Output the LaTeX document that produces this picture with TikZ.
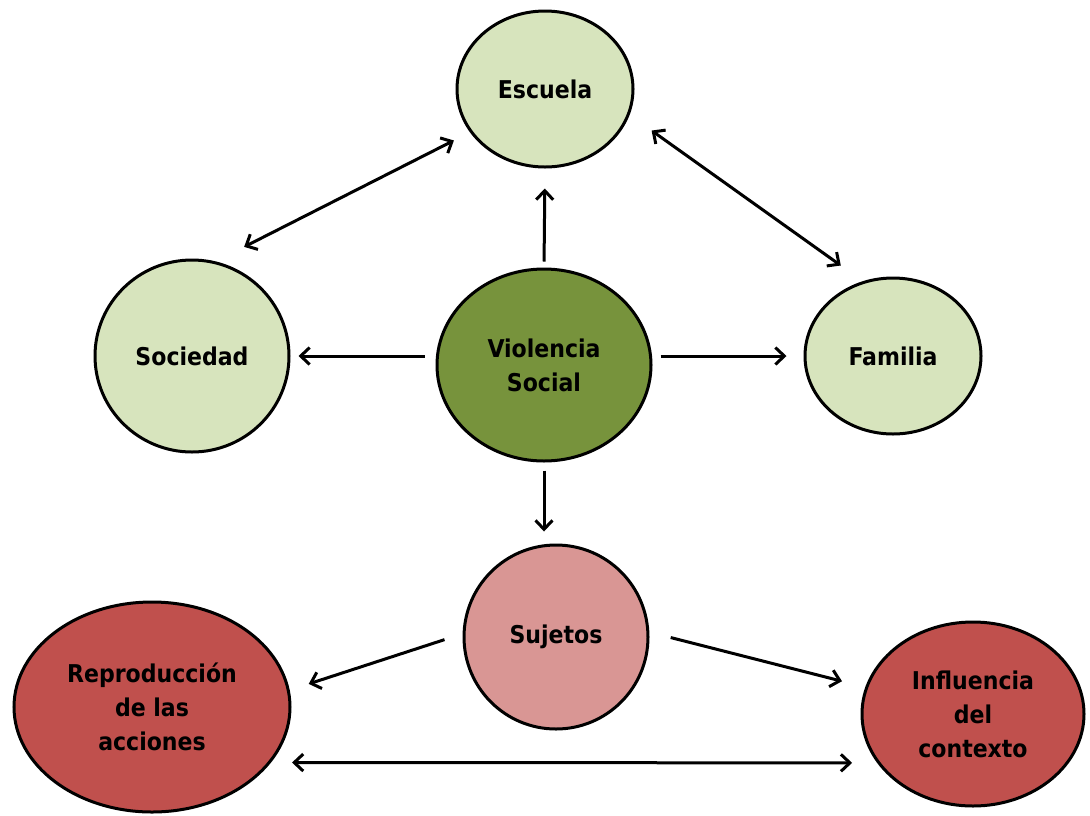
\documentclass[tikz,border=0pt]{standalone}
\usepackage{fontspec}
\setmainfont{DejaVu Sans Condensed}
\usepackage{tikz}
\usetikzlibrary{shapes.geometric,arrows.meta}
\definecolor{verdeclaro}{HTML}{D7E4BD}
\definecolor{verdeoscuro}{HTML}{77933C}
\definecolor{rosa}{HTML}{D99694}
\definecolor{rojo}{HTML}{C0504D}

\begin{document}
\begin{tikzpicture}[x=1pt,y=-1pt,
		burbuja/.style={ellipse,draw=black,line width=3pt,inner sep=0pt,align=center,
			font=\fontsize{24.5}{34}\selectfont\bfseries},
		flecha/.style={draw,line width=3pt,-{Straight Barb[length=9pt,width=17pt]}},
		dflecha/.style={draw,line width=3pt,{Straight Barb[length=9pt,width=17pt]}-{Straight Barb[length=9pt,width=17pt]}}]
	\useasboundingbox (0,0) rectangle (1090,815);
	
	\node[burbuja,fill=verdeclaro,minimum width=176pt,minimum height=156pt] (escuela) at (545,89) {Escuela};
	\node[burbuja,fill=verdeclaro,minimum width=194pt,minimum height=192pt] (sociedad) at (192,356) {Sociedad};
	\node[burbuja,fill=verdeoscuro,minimum width=214pt,minimum height=192pt] (violencia) at (544,365) {Violencia\\Social};
	\node[burbuja,fill=verdeclaro,minimum width=176pt,minimum height=156pt] (familia) at (893,356) {Familia};
	\node[burbuja,fill=rosa,minimum width=184pt,minimum height=184pt] (sujetos) at (556,637) {Sujetos};
	\node[burbuja,fill=rojo,minimum width=276pt,minimum height=210pt] (reproduccion) at (152,707) {Reproducción\\de las\\acciones};
	\node[burbuja,fill=rojo,minimum width=222pt,minimum height=184pt] (influencia) at (973,714) {Influencia\\del\\contexto};
	
	\draw[dflecha,shorten <=32pt,shorten >=18pt] (sociedad.76) -- (escuela.210);
	\draw[dflecha,shorten <=27pt,shorten >=27pt] (escuela.343) -- (familia.112);
	\draw[dflecha,shorten <=21pt,shorten >=25pt] (reproduccion.335) -- (influencia.207);
	
	\draw[flecha,shorten <=6pt,shorten >=20pt] (violencia.north) -- (escuela.south);
	\draw[flecha,shorten <=11pt,shorten >=8pt] (violencia.west |- sociedad.east) -- (sociedad.east);
	\draw[flecha,shorten <=8pt,shorten >=17pt] (violencia.east |- familia.west) -- (familia.west);
	\draw[flecha,shorten <=8pt,shorten >=12pt] (violencia.south) -- (violencia.south |- sujetos.north);
	\draw[flecha,shorten <=19pt,shorten >=20pt] (sujetos.178) -- (reproduccion.7.5);
	\draw[flecha,shorten <=22pt,shorten >=24pt] (sujetos.3) -- (influencia.166);
\end{tikzpicture}
\end{document}
